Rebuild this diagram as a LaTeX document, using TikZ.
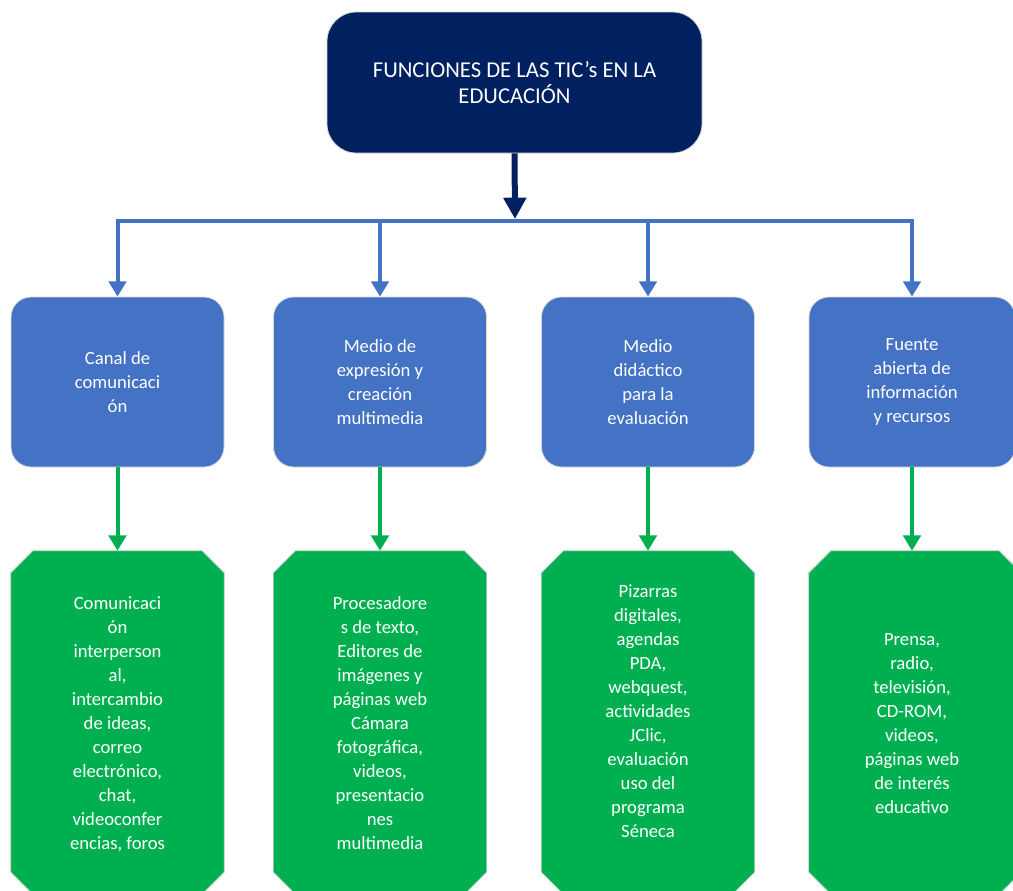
\documentclass[tikz,border=0pt]{standalone}
\usepackage{fontspec}
\setmainfont{Carlito}
\usetikzlibrary{arrows.meta}
\definecolor{navy}{HTML}{002060}
\definecolor{tblue}{HTML}{4472C4}
\definecolor{tgreen}{HTML}{00B050}
\begin{document}
\begin{tikzpicture}[x=0.75pt,y=-0.75pt,
  topbox/.style={rectangle, rounded corners=22pt, fill=navy, draw=gray!35, line width=0.6pt,
    minimum width=375*0.75pt, minimum height=141*0.75pt, text=white, align=center,
    font=\fontsize{17pt}{20pt}\selectfont, inner sep=0pt},
  bluebox/.style={rectangle, rounded corners=15pt, fill=tblue, draw=gray!30, line width=0.6pt,
    minimum width=213*0.75pt, minimum height=170*0.75pt, text=white, align=center,
    font=\fontsize{14pt}{18pt}\selectfont, inner sep=0pt},
  greenbox/.style={rectangle, minimum width=213*0.75pt, minimum height=343*0.75pt, inner sep=0pt},
  chamfer/.style={fill=tgreen, draw=gray!30, line width=0.6pt},
  gtext/.style={text=white, align=center, font=\fontsize{14pt}{18pt}\selectfont, inner sep=0pt},
  navyarrow/.style={draw=navy, line width=4.5pt, -{Triangle[width=16.5pt,length=16pt]}},
  bluearrow/.style={draw=tblue, line width=3pt, -{Triangle[width=13pt,length=11.5pt]}},
  greenarrow/.style={draw=tgreen, line width=3pt, -{Triangle[width=13pt,length=11.5pt]}}
]
\useasboundingbox (0,0) rectangle (1013,890);

\node[topbox] (top) at (514.5,82.5) {FUNCIONES DE LAS TIC’s EN LA\\EDUCACIÓN};

\node[bluebox] (b1) at (117.5,382) {Canal de\\comunicaci\\ón};
\node[bluebox] (b2) at (380,382) {Medio de\\expresión y\\creación\\multimedia};
\node[bluebox] (b3) at (648,382) {Medio\\didáctico\\para la\\evaluación};
\node[bluebox, minimum width=206*0.75pt] (b4) at (912,382) {Fuente\\abierta de\\información\\y recursos};

\node[greenbox] (g1) at (117.5,722.5) {};
\node[greenbox] (g2) at (380,722.5) {};
\node[greenbox] (g3) at (648,722.5) {};
\node[greenbox, minimum width=212*0.75pt] (g4) at (915,722.5) {};

\foreach \g in {g1,g2,g3,g4}{
  \path[chamfer] ([xshift=16.5pt]\g.north west) -- ([xshift=-16.5pt]\g.north east)
    -- ([yshift=-16.5pt]\g.north east) -- ([yshift=16.5pt]\g.south east)
    -- ([xshift=-16.5pt]\g.south east) -- ([xshift=16.5pt]\g.south west)
    -- ([yshift=16.5pt]\g.south west) -- ([yshift=-16.5pt]\g.north west) -- cycle;
}

\node[gtext] (t1) at (117.5,724) {Comunicaci\\ón\\interperson\\al,\\intercambio\\de ideas,\\correo\\electrónico,\\chat,\\videoconfer\\encias, foros};
\node[gtext] (t2) at (380,723) {Procesadore\\s de texto,\\Editores de\\imágenes y\\páginas web\\Cámara\\fotográfica,\\videos,\\presentacio\\nes\\multimedia};
\node[gtext] (t3) at (648,711) {Pizarras\\digitales,\\agendas\\PDA,\\webquest,\\actividades\\JClic,\\evaluación\\uso del\\programa\\Séneca};
\node[gtext] (t4) at (912,724) {Prensa,\\radio,\\televisión,\\CD-ROM,\\videos,\\páginas web\\de interés\\educativo};

\coordinate (jn) at (515,221);
\coordinate (j1) at (b1.north |- jn);
\coordinate (j4) at (b4.north |- jn);

\draw[draw=tblue, line width=3pt] (j1) -- (j4);
\draw[bluearrow] (jn) -| (b1.north);
\draw[bluearrow] (jn) -| (b2.north);
\draw[bluearrow] (jn) -| (b3.north);
\draw[bluearrow] (jn) -| (b4.north);
\draw[navyarrow] (top.south) -- ([yshift=1.5pt]jn);

\draw[greenarrow] (b1.south) -- (b1.south |- g1.north);
\draw[greenarrow] (b2.south) -- (b2.south |- g2.north);
\draw[greenarrow] (b3.south) -- (b3.south |- g3.north);
\draw[greenarrow] (b4.south) -- (b4.south |- g4.north);
\end{tikzpicture}
\end{document}
